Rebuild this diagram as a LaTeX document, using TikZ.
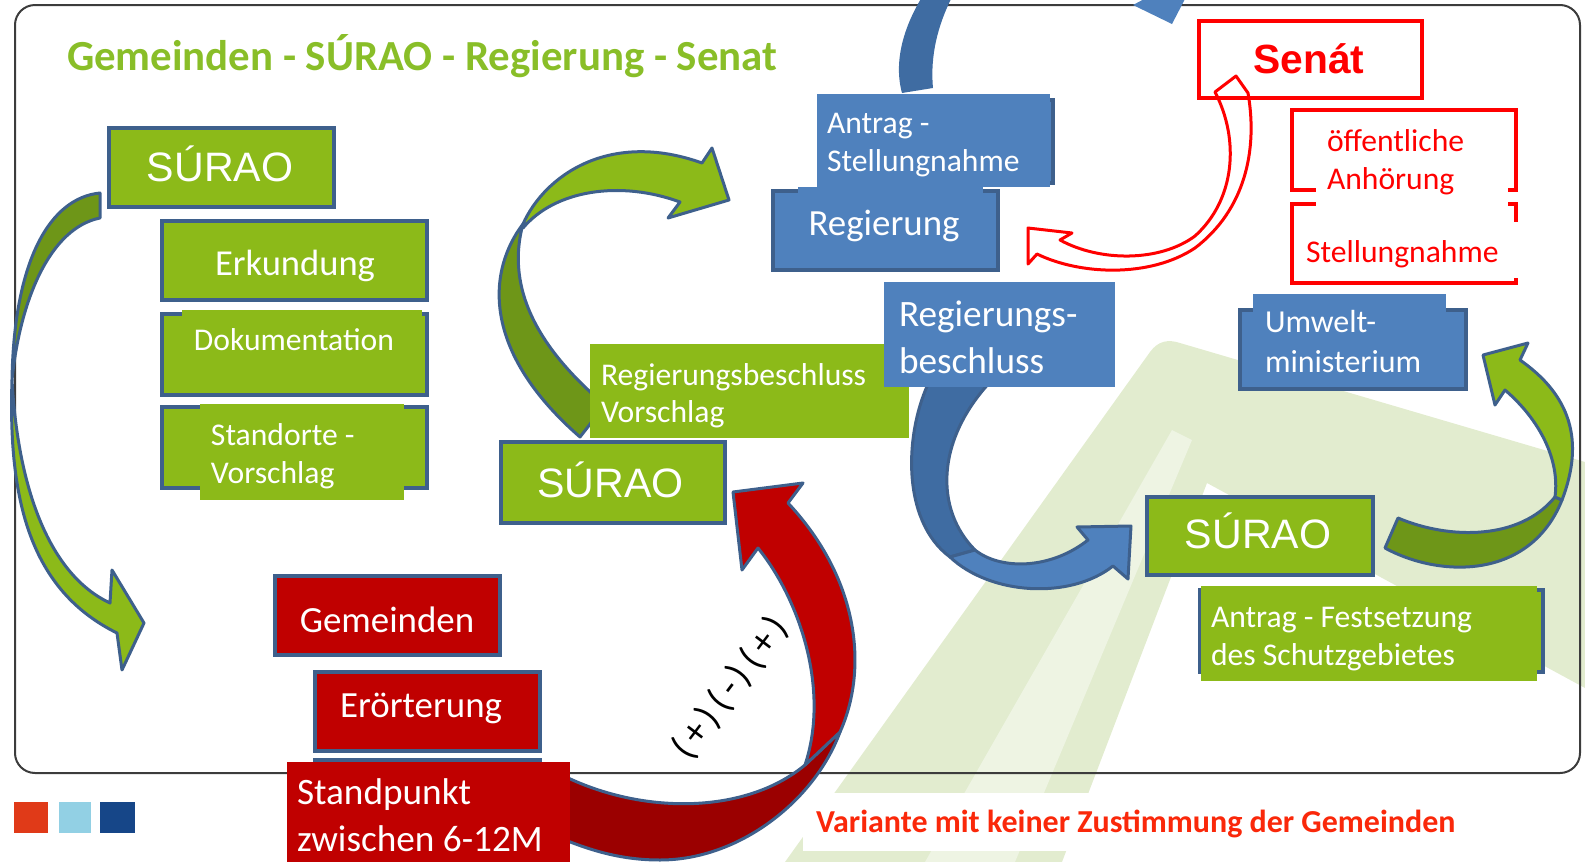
\documentclass[tikz,border=0pt]{standalone}
\usepackage{fontspec}
\setmainfont{Carlito}
\newfontfamily\arialfont{Liberation Sans}
\usetikzlibrary{positioning}
\definecolor{lgreen}{RGB}{140,186,25}
\definecolor{dgreen}{RGB}{110,150,24}
\definecolor{bborder}{RGB}{62,96,140}
\definecolor{bfill}{RGB}{79,129,189}
\definecolor{dblue}{RGB}{63,108,162}
\definecolor{rfill}{RGB}{192,0,0}
\definecolor{drfill}{RGB}{155,0,0}
\definecolor{titlegreen}{RGB}{137,190,40}
\definecolor{senatred}{RGB}{255,0,0}
\definecolor{varred}{RGB}{250,40,10}
\definecolor{stripe}{RGB}{226,236,207}
\definecolor{stripelt}{RGB}{238,244,227}
\definecolor{framegray}{RGB}{60,60,60}
\definecolor{sqred}{RGB}{224,58,24}
\definecolor{sqlblue}{RGB}{146,208,228}
\definecolor{sqdblue}{RGB}{22,70,136}
\newcommand\txtS{\fontsize{9}{10.8}\selectfont}
\newcommand\txtL{\fontsize{10.5}{13.1}\selectfont}
\tikzset{box/.style={draw=bborder,line width=0.4mm,inner sep=0pt,outer sep=0pt},
         gbox/.style={box,fill=lgreen},
         bbox/.style={box,fill=bfill},
         rbox/.style={box,fill=rfill},
         sbox/.style={draw=senatred,line width=0.45mm,fill=white,inner sep=0pt},
         patch/.style={inner sep=0pt,outer sep=0pt,draw=none},
         txt/.style={inner sep=0pt,outer sep=0pt,text=white,align=left},
         surao/.style={txt,font=\arialfont\fontsize{11.7}{14}\selectfont},
         ribbon/.style={draw=bborder,line width=0.3mm,line join=round}}

\begin{document}
\begin{tikzpicture}[x=0.1mm,y=-0.1mm]
        \useasboundingbox (0,0) rectangle (1585,862);

        % background
        \fill[stripe] (785,862) -- (1150,352) .. controls (1158,341) and (1168,339) .. (1180,343) -- (1585,462) -- (1585,688) -- (1207,483) -- (1062,862) -- cycle;
        \fill[stripelt] (925,862) -- (1172,430) -- (1192,440) -- (1015,862) -- cycle;
        \draw[framegray,line width=0.2mm,rounded corners=2mm] (15,5) rectangle (1580,773);
        \node[patch,fill=white,minimum width=65.9mm,minimum height=5.8mm](varP)at(1132.5,822){};
        \node[patch,fill=sqred,minimum width=3.4mm,minimum height=3.1mm](sq1)at(31,817.5){};
        \node[patch,fill=sqlblue,minimum width=3.2mm,minimum height=3.1mm](sq2)at(75,817.5){};
        \node[patch,fill=sqdblue,minimum width=3.5mm,minimum height=3.1mm](sq3)at(117.5,817.5){};

        % ribbons
        \filldraw[ribbon,fill=dgreen] (100,193) .. controls (50,198) and (14,260) .. (12,380) .. controls (20,300) and (50,228) .. (100,218) -- cycle;
        \filldraw[ribbon,fill=lgreen] (12,380) .. controls (8,500) and (30,590) .. (117,633) -- (122,670) -- (144,623) -- (112,570) -- (110,603) .. controls (50,575) and (18,490) .. (12,380) -- cycle;
        \filldraw[ribbon,fill=dgreen] (523,224) .. controls (488,270) and (480,350) .. (580,437) -- (605,405) .. controls (540,350) and (505,290) .. (523,224) -- cycle;
        \filldraw[ribbon,fill=lgreen] (523,224) .. controls (545,175) and (610,130) .. (702,163) -- (712,148) -- (729,200) -- (668,218) -- (680,202) .. controls (620,180) and (555,190) .. (523,228) -- cycle;
        \filldraw[ribbon,fill=drfill] (560,774) .. controls (640,815) and (745,815) .. (805,765) -- (840,732) .. controls (815,800) and (740,860) .. (660,860) .. controls (620,860) and (590,850) .. (560,838) -- cycle;
        \filldraw[ribbon,fill=rfill] (758,548) .. controls (800,600) and (830,690) .. (805,765) -- (840,732) .. controls (868,670) and (860,580) .. (788,503) -- (803,483) -- (733,492) -- (742,570) -- cycle;
        \fill[dblue] (902,93) .. controls (893,60) and (905,25) .. (922,-3) -- (952,-3) .. controls (938,25) and (930,55) .. (933,88) -- cycle;
        \fill[bfill] (1133,5) -- (1172,24) -- (1186,-3) -- (1148,-3) -- cycle;
        \filldraw[ribbon,fill=dblue] (930,380) .. controls (905,430) and (900,520) .. (950,557) -- (975,550) .. controls (935,510) and (935,440) .. (992,380) -- cycle;
        \filldraw[ribbon,fill=bfill] (950,557) .. controls (990,595) and (1070,600) .. (1113,566) -- (1128,579) -- (1131,526) -- (1077,527) -- (1088,540) .. controls (1050,570) and (1000,570) .. (975,550) -- cycle;
        \filldraw[ribbon,fill=dgreen] (1385,548) .. controls (1440,578) and (1530,580) .. (1562,500) -- (1555,497) .. controls (1520,540) and (1450,540) .. (1398,518) -- cycle;
        \filldraw[ribbon,fill=lgreen] (1562,500) .. controls (1585,440) and (1570,395) .. (1520,360) -- (1528,343) -- (1483,355) -- (1495,405) -- (1505,390) .. controls (1540,420) and (1560,460) .. (1555,497) -- cycle;

        % left column
        \node[gbox,minimum width=22.5mm,minimum height=7.9mm](surao1)at(221.5,167.5){};
        \node[gbox,minimum width=26.5mm,minimum height=7.9mm](erk)at(294.5,260.5){};
        \node[gbox,minimum width=26.5mm,minimum height=8.1mm](dok)at(294.5,354.5){};
        \node[patch,fill=lgreen,minimum width=24mm,minimum height=6.2mm](dokP)at(302,341){};
        \node[gbox,minimum width=26.5mm,minimum height=8.1mm](stand)at(294.5,447.5){};
        \node[patch,fill=lgreen,minimum width=20.4mm,minimum height=9.6mm](standP)at(302,452){};
        \node[rbox,minimum width=22.5mm,minimum height=7.9mm](gem)at(387.5,615.5){};
        \node[rbox,minimum width=22.5mm,minimum height=7.9mm](eror)at(427.5,711.5){};
        \node[rbox,minimum width=22.5mm,minimum height=8.8mm](stdpB)at(427.5,804){};
        \node[patch,fill=rfill,minimum width=28.3mm,minimum height=10mm](stdp)at(428.5,812){};

        % middle
        \node[gbox,minimum width=22.4mm,minimum height=8.1mm](surao2)at(613,482.5){};
        \node[patch,fill=lgreen,minimum width=31.9mm,minimum height=9.4mm](rbv)at(749.5,391){};
        \node[bbox,minimum width=23.1mm,minimum height=8.3mm](astB)at(937.5,141.5){};
        \node[patch,fill=bfill,minimum width=23.3mm,minimum height=9.3mm](ast)at(933.5,140.5){};
        \node[bbox,minimum width=22.5mm,minimum height=7.9mm](reg)at(885.5,230.5){};
        \node[patch,fill=bfill,minimum width=18.5mm,minimum height=6.8mm](regP)at(890.5,221){};
        \node[patch,fill=bfill,minimum width=23.1mm,minimum height=10.5mm](rb)at(999.5,334.5){};

        % right
        \node[sbox,minimum width=22.3mm,minimum height=7.7mm](senat)at(1310.5,59.5){};
        \node[sbox,minimum width=22.4mm,minimum height=8mm](oa)at(1404,150){};
        \node[sbox,minimum width=22.4mm,minimum height=7.9mm](st)at(1404,243.5){};
        \node[patch,fill=white,minimum width=19.2mm,minimum height=9.3mm](oaP)at(1412,159.5){};
        \node[patch,fill=white,minimum width=22.5mm,minimum height=5.6mm](stP)at(1412.5,250){};
        \draw[senatred,line width=0.3mm,line join=round] (1215,92) -- (1236,76) -- (1248,93) .. controls (1258,150) and (1245,210) .. (1195,248) .. controls (1150,278) and (1080,275) .. (1037,254) -- (1028,264) -- (1028,228) -- (1072,233) -- (1060,240) .. controls (1100,262) and (1160,262) .. (1195,236) .. controls (1235,200) and (1240,140) .. (1215,92) -- cycle;
        \node[bbox,minimum width=22.6mm,minimum height=7.9mm](umw)at(1353,349.5){};
        \node[patch,fill=bfill,minimum width=19.3mm,minimum height=9.2mm](umwP)at(1349.5,340){};
        \node[gbox,minimum width=22.6mm,minimum height=7.8mm](surao3)at(1260,536){};
        \node[gbox,minimum width=34.3mm,minimum height=8.2mm](afs)at(1371.5,631){};
        \node[patch,fill=lgreen,minimum width=33.6mm,minimum height=9.5mm](afsP)at(1369,633.5){};

        % texts (two-line labels sit on their last baseline)
        \node[txt,anchor=base west,text=titlegreen,font=\fontsize{12.2}{14}\selectfont\bfseries](title)at(67,70){Gemeinden - SÚRAO - Regierung - Senat};
        \node[surao,anchor=base](surao1-t)at(220,181){SÚRAO};
        \node[txt,anchor=base,font=\fontsize{10.4}{12}\selectfont](erk-t)at(295,275){Erkundung};
        \node[txt,anchor=base,font=\txtS](dok-t)at(294,350){Dokumentation};
        \node[txt,anchor=base west,font=\txtS](stand-t)at(211,483){Standorte -\\Vorschlag};
        \node[txt,anchor=base,font=\txtL](gem-t)at(387,632){Gemeinden};
        \node[txt,anchor=base,font=\txtL](eror-t)at(421,717){Erörterung};
        \node[txt,anchor=base west,font=\fontsize{10.6}{13.1}\selectfont](stdp-t)at(297,851){Standpunkt\\zwischen 6-12M};
        \node[surao,anchor=base](surao2-t)at(610.5,497){SÚRAO};
        \node[txt,anchor=base west,font=\fontsize{9}{10.5}\selectfont](rbv-t)at(601,422){Regierungsbeschluss\\Vorschlag};
        \node[txt,anchor=base west,font=\txtS](ast-t)at(827,171){Antrag -\\Stellungnahme};
        \node[txt,anchor=base,font=\txtL](reg-t)at(884,235){Regierung};
        \node[txt,anchor=base west,font=\fontsize{10.6}{13.1}\selectfont](rb-t)at(899,373){Regierungs-\\beschluss};
        \node[txt,anchor=base,text=senatred,font=\arialfont\fontsize{11.6}{14}\selectfont\bfseries](senat-t)at(1309,73){Senát};
        \node[txt,anchor=base west,text=senatred,font=\txtS](oa-t)at(1327,189){öffentliche\\Anhörung};
        \node[txt,anchor=base west,text=senatred,font=\txtS](st-t)at(1306,262){Stellungnahme};
        \node[txt,anchor=base west,font=\fontsize{9.1}{11.1}\selectfont](umw-t)at(1265,372){Umwelt-\\ministerium};
        \node[surao,anchor=base](surao3-t)at(1258,548){SÚRAO};
        \node[txt,anchor=base west,font=\txtS](afs-t)at(1211,665){Antrag - Festsetzung\\des Schutzgebietes};
        \node[txt,anchor=base west,text=varred,font=\fontsize{9.1}{11}\selectfont\bfseries](var-t)at(816,832){Variante mit keiner Zustimmung der Gemeinden};
        \node[txt,text=black,rotate=53,font=\fontsize{11}{13}\selectfont](pm-t)at(730,688){(\kern1.5pt+\kern1.5pt)\kern2pt(\kern1.5pt-\kern1.5pt)\kern2pt(\kern1.5pt+\kern1.5pt)};
    \end{tikzpicture}
\end{document}
